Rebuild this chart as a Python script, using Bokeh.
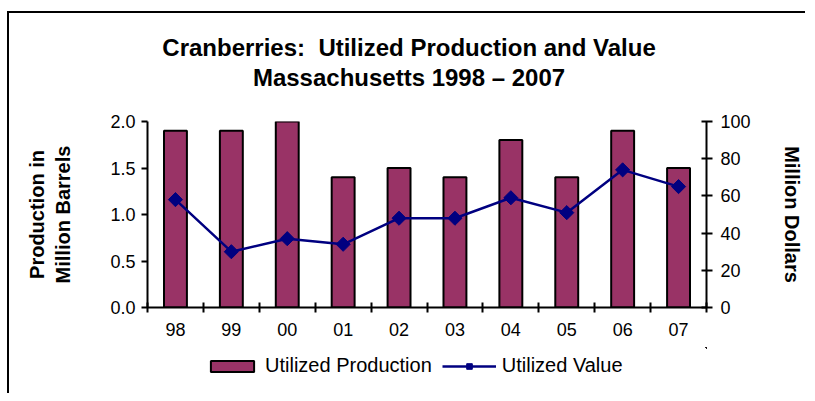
import numpy as np
from bokeh.plotting import figure
from bokeh.layouts import column
from bokeh.models import (Range1d, LinearAxis, FixedTicker, Legend, LegendItem,
                          ColumnDataSource)
from bokeh.core.properties import value as pvalue
from bokeh.embed import file_html
from bokeh.resources import INLINE

years = ["98", "99", "00", "01", "02", "03", "04", "05", "06", "07"]
production = [1.9, 1.9, 2.0, 1.4, 1.5, 1.4, 1.8, 1.4, 1.9, 1.5]
value = [58, 30, 37, 34, 48, 48, 59, 51, 74, 65]
title_lines = ["Cranberries:\u00a0 Utilized Production and Value",
               "Massachusetts 1998 \u2013 2007"]
series_names = ["Utilized Production", "Utilized Value"]

FONT = "Liberation Sans"
BAR = "#993366"
NAVY = "#000080"
W = 796
FW = 560

# ---------- header with the two-line title (frame aligned with chart frame) ----------
HH = 90
header = figure(width=W, height=HH, output_backend="svg", toolbar_location=None,
                x_range=Range1d(0, FW), y_range=Range1d(0, HH),
                x_axis_type=None, y_axis_type=None,
                min_border=0, min_border_left=138, min_border_right=W - 138 - FW,
                min_border_top=0, min_border_bottom=0)
header.outline_line_color = None
header.xgrid.visible = False
header.ygrid.visible = False
header.text(x=[262, 262], y=[HH - 34, HH - 64], text=title_lines,
            text_font=pvalue(FONT), text_font_size="24px", text_font_style="bold",
            text_color="black", text_align="center", text_baseline="middle")

# ---------- main chart ----------
x = [i + 0.5 for i in range(len(years))]
src = ColumnDataSource(dict(x=x, production=production, value=value))

p = figure(width=W, height=18 + 186 + 40, output_backend="svg", toolbar_location=None,
           x_range=Range1d(0, len(years)), y_range=Range1d(0, 2),
           min_border_left=138, min_border_right=W - 138 - FW, min_border_top=18,
           min_border_bottom=40)
p.outline_line_color = None
p.xgrid.visible = False
p.ygrid.visible = False
p.extra_y_ranges = {"value": Range1d(0, 100)}

bars = p.vbar(x="x", top="production", width=0.41, source=src,
              fill_color=BAR, line_color="black", line_width=2)
ln = p.line(x="x", y="value", source=src, y_range_name="value",
            line_color=NAVY, line_width=2.5)
mk = p.scatter(x="x", y="value", source=src, y_range_name="value",
               marker="square", angle=np.pi / 4, size=10,
               fill_color=NAVY, line_color=NAVY)

xa = p.xaxis[0]
xa.ticker = FixedTicker(ticks=x, minor_ticks=list(range(len(years) + 1)))
xa.major_label_overrides = {xi: y for xi, y in zip(x, years)}
xa.major_tick_in = 0
xa.major_tick_out = 0
xa.minor_tick_in = 5
xa.minor_tick_out = 5
xa.minor_tick_line_width = 2
xa.axis_line_width = 2
xa.major_label_standoff = 10
xa.major_label_text_font = FONT
xa.major_label_text_font_size = "18px"
xa.major_label_text_color = "black"

ya = p.yaxis[0]
ya.ticker = FixedTicker(ticks=[0, 0.5, 1.0, 1.5, 2.0])
ya.major_label_overrides = {0: "0.0", 0.5: "0.5", 1.0: "1.0", 1.5: "1.5", 2.0: "2.0"}
ya.minor_tick_line_color = None
ya.major_tick_in = 0
ya.major_tick_out = 6
ya.major_tick_line_width = 2
ya.axis_line_width = 2
ya.major_label_standoff = 6
ya.major_label_text_font = FONT
ya.major_label_text_font_size = "18px"
ya.major_label_text_color = "black"
ya.axis_label = "Production in\nMillion Barrels"
ya.axis_label_text_font = FONT
ya.axis_label_text_font_size = "20px"
ya.axis_label_text_font_style = "bold"
ya.axis_label_text_color = "black"
ya.axis_label_standoff = 33

ra = LinearAxis(y_range_name="value", ticker=FixedTicker(ticks=[0, 20, 40, 60, 80, 100]))
ra.minor_tick_line_color = None
ra.major_tick_in = 5
ra.major_tick_out = 6
ra.major_tick_line_width = 2
ra.axis_line_width = 2
ra.major_label_standoff = 8
ra.major_label_text_font = FONT
ra.major_label_text_font_size = "18px"
ra.major_label_text_color = "black"
ra.axis_label = "Million Dollars"
ra.axis_label_text_font = FONT
ra.axis_label_text_font_size = "20px"
ra.axis_label_text_font_style = "bold"
ra.axis_label_text_color = "black"
ra.axis_label_standoff = 27
p.add_layout(ra, "right")

# ---------- legend strip (its renderers sit out of view; only the legend shows) ----------
LH = 46
lf = figure(width=W, height=LH, output_backend="svg", toolbar_location=None,
            x_range=Range1d(-30, -29), y_range=Range1d(-30, -29),
            x_axis_type=None, y_axis_type=None,
            min_border=0, min_border_left=138, min_border_right=W - 138 - FW,
            min_border_top=0, min_border_bottom=0)
lf.outline_line_color = None
lf.xgrid.visible = False
lf.ygrid.visible = False
lb = lf.vbar(x="x", top="production", width=0.41, source=src,
             fill_color=BAR, line_color="black", line_width=2)
ll = lf.line(x="x", y="value", source=src, line_color=NAVY, line_width=2.5)
lm = lf.scatter(x="x", y="value", source=src, marker="square", angle=np.pi / 4,
                size=10, fill_color=NAVY, line_color=NAVY)
legend = Legend(items=[LegendItem(label=series_names[0], renderers=[lb]),
                       LegendItem(label=series_names[1], renderers=[ll, lm])],
                orientation="horizontal", location=(58, 16),
                label_text_font=FONT, label_text_font_size="20px",
                label_text_color="black",
                glyph_width=54, glyph_height=14, label_standoff=6,
                spacing=10, padding=4, margin=0,
                border_line_color=None, background_fill_alpha=0)
lf.add_layout(legend)

layout = column(header, p, lf, spacing=0,
                styles={"border-left": "2px solid black", "border-top": "2px solid black",
                        "margin-top": "11px", "margin-left": "7px"})

open("out.html", "w").write(file_html(layout, INLINE))
